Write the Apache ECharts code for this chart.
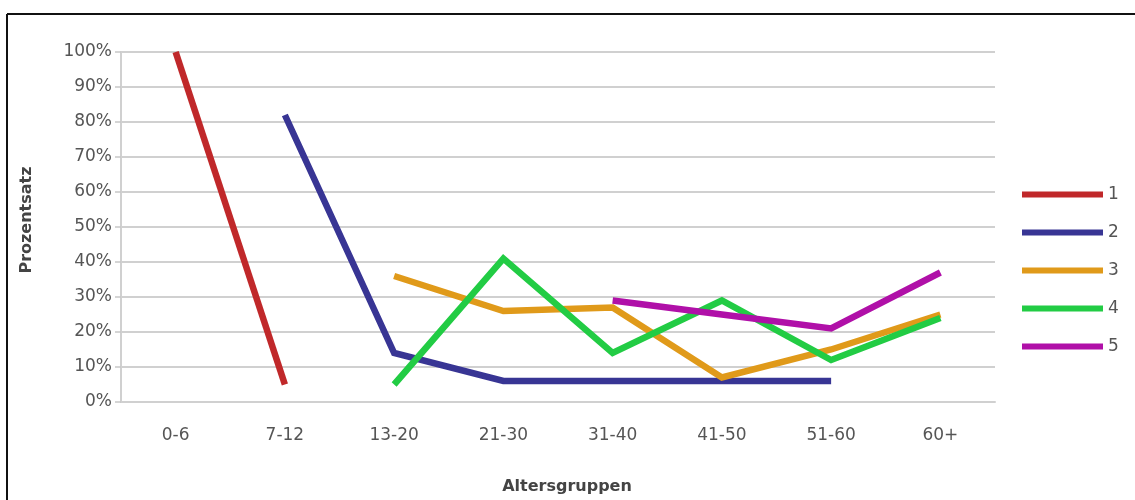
<!DOCTYPE html>
<html>
<head>
<meta charset="utf-8">
<script src="https://cdn.jsdelivr.net/npm/echarts@6/dist/echarts.min.js"></script>
<style>
html,body{margin:0;padding:0;background:#fff;}
#c{width:1135px;height:500px;}
</style>
</head>
<body>
<div id="c"></div>
<script>
const categories = ['0-6','7-12','13-20','21-30','31-40','41-50','51-60','60+'];
const seriesNames = ['1','2','3','4','5'];
const s1 = [100, 5, null, null, null, null, null, null];
const s2 = [null, 82, 14, 6, 6, 6, 6, null];
const s3 = [null, null, 36, 26, 27, 7, 15, 25];
const s4 = [null, null, 5, 41, 14, 29, 12, 24];
const s5 = [null, null, null, null, 29, 25, 21, 37];
const yTicks = [0,10,20,30,40,50,60,70,80,90,100];
const colors = ['#c0282a','#383594','#e09a1a','#22cc44','#b010a8'];

const font = 'DejaVu Sans';
const chart = echarts.init(document.getElementById('c'));
const allData = [s1,s2,s3,s4,s5];
chart.setOption({
  animation:false,
  color: colors,
  grid:{left:121,right:140,top:52,bottom:98,containLabel:false},
  legend:{
    orient:'vertical', left:1017, top:181,
    icon:'rect', itemWidth:81, itemHeight:6, itemGap:21,
    textStyle:{fontFamily:font,fontSize:17,color:'#555',lineHeight:16},
    data: seriesNames
  },
  xAxis:{
    type:'category', data:categories, boundaryGap:true,
    name:'Altersgruppen', nameLocation:'middle', nameGap:77,
    nameTextStyle:{fontFamily:font,fontSize:16,fontWeight:'bold',color:'#444',padding:[0,0,0,18]},
    axisLine:{lineStyle:{color:'#d0d0d0',width:2}},
    axisTick:{show:false},
    axisLabel:{fontFamily:font,fontSize:17,color:'#555',margin:25}
  },
  yAxis:{
    type:'value', min:yTicks[0], max:yTicks[yTicks.length-1], interval:10,
    name:'Prozentsatz', nameLocation:'middle', nameGap:86,
    nameTextStyle:{fontFamily:font,fontSize:16,fontWeight:'bold',color:'#444',padding:[0,0,0,14]},
    axisLine:{show:true,lineStyle:{color:'#d0d0d0',width:2}},
    axisTick:{show:true,length:6,lineStyle:{color:'#c8c8c8',width:1.5}},
    axisLabel:{fontFamily:font,fontSize:17,color:'#555',margin:9,formatter:'{value}%'},
    splitLine:{lineStyle:{color:'#d0d0d0',width:2}}
  },
  graphic:[
    {type:'line',shape:{x1:7,y1:14,x2:1135,y2:14},style:{stroke:'#111',lineWidth:2}},
    {type:'line',shape:{x1:7,y1:14,x2:7,y2:500},style:{stroke:'#111',lineWidth:2}}
  ],
  series: seriesNames.map((n,i)=>({
    name:n, type:'line', data:allData[i], showSymbol:false, symbol:'none',
    connectNulls:false,
    lineStyle:{width:6.5,color:colors[i],cap:'butt',join:'miter'}
  }))
});
</script>
</body>
</html>
